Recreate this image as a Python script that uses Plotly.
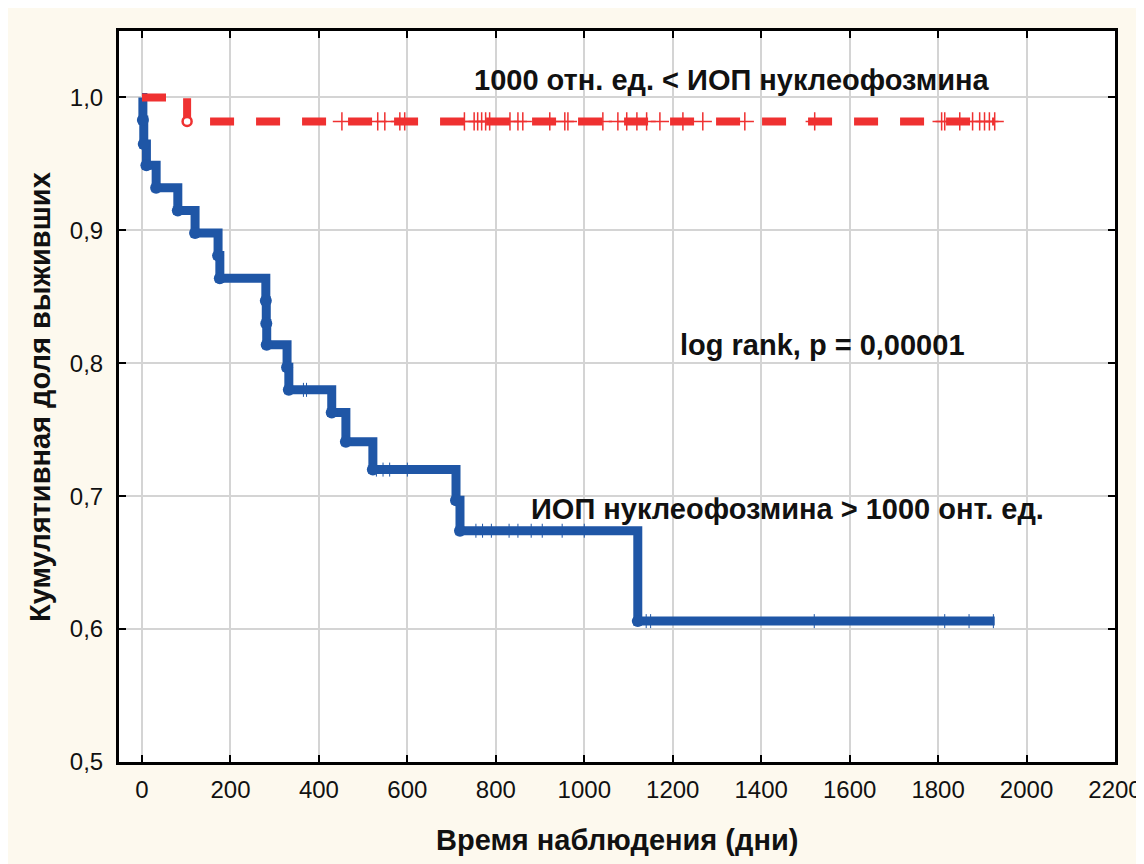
import plotly.graph_objects as go

# ---- data ----
blue_event_days = [2, 4, 10, 32, 81, 120, 172, 176, 280, 281, 282, 328, 332, 429, 461, 522, 710, 719, 1121]
blue_event_surv = [0.983, 0.965, 0.949, 0.932, 0.915, 0.898, 0.881, 0.864, 0.847, 0.830, 0.814,
                   0.797, 0.780, 0.763, 0.741, 0.720, 0.697, 0.674, 0.606]
blue_end_day = 1928
blue_censor_days = [365, 372, 530, 545, 560, 600, 755, 770, 790, 830, 850, 880, 905, 950, 1000,
                    1140, 1150, 1520, 1815, 1870, 1925]

red_event_days = [102]
red_event_surv = [0.982]
red_end_day = 1928
red_censor_days = [452, 533, 549, 583, 594, 729, 751, 759, 768, 777, 786, 832, 850, 861, 922, 956,
                   963, 1042, 1076, 1096, 1119, 1141, 1171, 1223, 1268, 1363, 1521, 1808, 1815,
                   1849, 1878, 1894, 1905, 1916, 1928]

x_ticks = [0, 200, 400, 600, 800, 1000, 1200, 1400, 1600, 1800, 2000, 2200]
y_ticks = [0.5, 0.6, 0.7, 0.8, 0.9, 1.0]

label_top = "1000 отн. ед. < ИОП нуклеофозмина"
label_mid = "log rank, p = 0,00001"
label_low = "ИОП нуклеофозмина > 1000 онт. ед."
x_title = "Время наблюдения (дни)"
y_title = "Кумулятивная доля выживших"

BLUE = "#1F56A6"
RED = "#EF3131"
CREAM = "#FDF9EE"
TXT = "#111111"


def surv_at(days, surv, t):
    s = 1.0
    for d, v in zip(days, surv):
        if d <= t:
            s = v
    return s


fig = go.Figure()

# blue censor ticks (mostly under the line)
fig.add_trace(go.Scatter(
    x=blue_censor_days,
    y=[surv_at(blue_event_days, blue_event_surv, t) for t in blue_censor_days],
    mode="markers",
    marker=dict(symbol="line-ns", size=10, line=dict(color=BLUE, width=1)),
    showlegend=False, hoverinfo="skip"))

# blue step line
fig.add_trace(go.Scatter(
    x=[0] + blue_event_days + [blue_end_day],
    y=[1.0] + blue_event_surv + [blue_event_surv[-1]],
    mode="lines", line=dict(color=BLUE, width=9, shape="hv"),
    showlegend=False, hoverinfo="skip"))

# blue event dots
fig.add_trace(go.Scatter(
    x=blue_event_days, y=blue_event_surv, mode="markers",
    marker=dict(symbol="circle", size=12, color=BLUE),
    showlegend=False, hoverinfo="skip"))

# red step dashed line
fig.add_trace(go.Scatter(
    x=[0] + red_event_days + [red_end_day],
    y=[1.0] + red_event_surv + [red_event_surv[-1]],
    mode="lines", line=dict(color=RED, width=8, shape="hv", dash="24px,22px"),
    showlegend=False, hoverinfo="skip"))

# red censor pluses
fig.add_trace(go.Scatter(
    x=red_censor_days,
    y=[surv_at(red_event_days, red_event_surv, t) for t in red_censor_days],
    mode="markers",
    marker=dict(symbol="cross-thin", size=13, line=dict(color=RED, width=1.5)),
    showlegend=False, hoverinfo="skip"))

# red event open circle
fig.add_trace(go.Scatter(
    x=red_event_days, y=red_event_surv, mode="markers",
    marker=dict(symbol="circle", size=9, color="white", line=dict(color=RED, width=2.5)),
    showlegend=False, hoverinfo="skip"))

font_family = "Liberation Sans, Arial, sans-serif"

axis_common = dict(
    showgrid=True, gridcolor="#D4D4D4", gridwidth=1.5,
    showline=True, linecolor="black", linewidth=3, mirror="ticks",
    ticks="inside", ticklen=7, tickwidth=2, tickcolor="black",
    tickfont=dict(size=24, color=TXT), zeroline=False, automargin=False,
)

fig.update_layout(
    width=1144, height=864,
    margin=dict(l=111, r=37, t=23, b=110, autoexpand=False),
    paper_bgcolor=CREAM, plot_bgcolor="white",
    separators=", ",
    font=dict(family=font_family, color=TXT),
    xaxis=dict(range=[-52, 2200], tickvals=x_ticks, tickformat="d", ticklabelstandoff=4, **axis_common),
    yaxis=dict(range=[0.5, 1.05], tickvals=y_ticks, tickformat=".1f", ticklabelstandoff=8, **axis_common),
)


# helpers: screen pixel (page incl. 8px body margin) -> paper coords
def px_to_paper_x(px):
    return (px - 119) / 996.0


def px_to_paper_y(py):
    return (762 - py) / 731.0


for txt, cx, cy in [(label_top, 732, 80), (label_mid, 822, 345), (label_low, 787, 509)]:
    fig.add_annotation(x=px_to_paper_x(cx), y=px_to_paper_y(cy), xref="paper", yref="paper",
                       text="<b>" + txt + "</b>", showarrow=False,
                       font=dict(size=29, color=TXT), xanchor="center", yanchor="middle")

# axis titles
fig.add_annotation(x=px_to_paper_x(617), y=px_to_paper_y(840), xref="paper", yref="paper",
                   text="<b>" + x_title + "</b>", showarrow=False,
                   font=dict(size=29, color=TXT), xanchor="center", yanchor="middle")
fig.add_annotation(x=px_to_paper_x(40), y=px_to_paper_y(397), xref="paper", yref="paper",
                   text="<b>" + y_title + "</b>", showarrow=False, textangle=-90,
                   font=dict(size=29, color=TXT), xanchor="center", yanchor="middle")

fig.write_html("out.html")
